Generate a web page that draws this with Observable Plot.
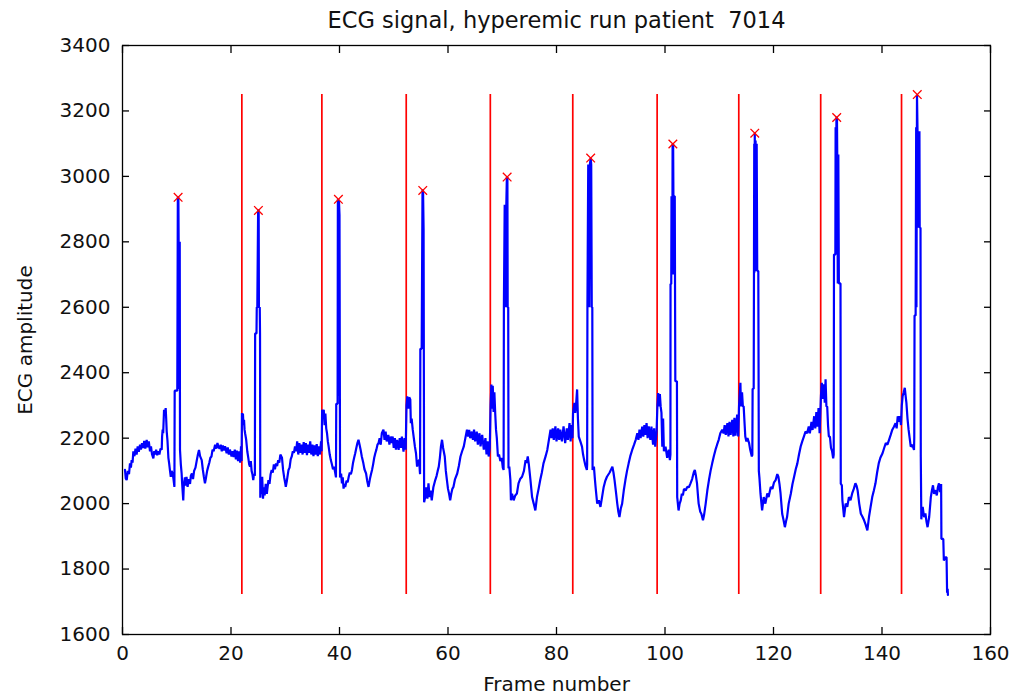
<!DOCTYPE html>
<html>
<head>
<meta charset="utf-8">
<script src="https://cdn.jsdelivr.net/npm/d3@7"></script>
<script src="https://cdn.jsdelivr.net/npm/@observablehq/plot@0.6"></script>
<style>
  html, body { margin: 0; padding: 0; background: #fff; }
</style>
</head>
<body>
<div id="chart"></div>
<script>
// ---- Data ----
const titleText = "ECG signal, hyperemic run patient  7014";
const xLabel = "Frame number";
const yLabel = "ECG amplitude";
const xTicks = [0, 20, 40, 60, 80, 100, 120, 140, 160];
const yTicks = [1600, 1800, 2000, 2200, 2400, 2600, 2800, 3000, 3200, 3400];

// beat boundaries (red vertical lines), frame numbers
const beatFrames = [22.0, 36.75, 52.3, 67.8, 83.0, 98.55, 113.6, 128.7, 143.6];
const beatLow = 1722;
const beatHigh = 3250;

// detected R peaks (red crosses)
const peakFrames = [10.25, 25.05, 39.8, 55.35, 70.9, 86.3, 101.45, 116.55, 131.65, 146.5];
const peakValues = [2936, 2896, 2930, 2957, 2998, 3056, 3099, 3132, 3180, 3250];

// ECG trace [frame, amplitude]
const ecgSignal = [
[0.46,2103],[0.6,2077],[0.77,2072],[0.98,2100],[1.2,2090],[1.38,2123],[1.55,2110],[1.69,2133],[1.85,2125],[2.0,2160],[2.2,2145],[2.4,2168],[2.6,2150],[2.8,2175],[3.0,2158],[3.23,2180],[3.4,2165],[3.6,2185],[3.84,2170],[4.0,2192],[4.2,2168],[4.46,2195],[4.65,2172],[4.85,2190],[5.07,2160],[5.25,2175],[5.45,2150],[5.69,2138],[5.85,2160],[6.0,2150],[6.2,2165],[6.4,2148],[6.6,2160],[6.8,2150],[7.0,2168],[7.23,2165],[7.3,2205],[7.4,2226],[7.5,2215],[7.66,2287],[7.8,2270],[7.96,2292],[8.05,2260],[8.15,2220],[8.3,2190],[8.46,2140],[8.6,2123],[8.76,2100],[8.9,2082],[9.05,2100],[9.25,2092],[9.4,2075],[9.57,2051],
[9.62,2345],[10.1,2345],[10.2,2936],[10.3,2936],[10.35,2800],[10.4,2350],[10.45,2800],[10.5,2350],[10.55,2800],[10.6,2164],
[10.75,2120],[10.9,2092],[11.0,2060],[11.2,2010],[11.3,2056],[11.5,2080],[11.65,2055],[11.8,2082],[12.0,2051],[12.2,2075],[12.45,2060],[12.6,2085],[12.8,2092],[13.0,2075],[13.2,2100],[13.45,2110],[13.7,2133],[13.9,2150],[14.1,2164],[14.3,2145],[14.6,2133],[14.8,2105],[15.0,2082],[15.2,2062],[15.4,2080],[15.6,2100],[15.8,2113],[16.0,2125],[16.2,2140],[16.4,2144],[16.6,2165],[16.8,2160],[17.07,2180],[17.3,2168],[17.5,2185],[17.7,2172],[17.9,2168],[18.1,2180],[18.3,2160],[18.5,2178],[18.7,2162],[18.9,2175],[19.2,2154],[19.4,2172],[19.6,2150],[19.8,2165],[20.1,2144],[20.3,2160],[20.5,2142],[20.7,2165],[20.9,2135],[21.07,2162],[21.3,2130],[21.5,2160],[21.7,2125],[21.85,2175],[21.95,2130],
[22.02,2277],[22.1,2260],[22.2,2275],[22.3,2240],[22.4,2256],[22.5,2226],[22.6,2215],[22.8,2195],[23.0,2160],[23.2,2138],[23.35,2120],[23.5,2113],[23.65,2130],[23.8,2100],[23.95,2090],[24.1,2072],[24.25,2090],[24.4,2085],
[24.45,2520],[24.7,2520],[24.75,2600],[24.85,2600],[25.0,2896],[25.1,2896],[25.15,2600],[25.3,2600],[25.35,2520],[25.4,2018],
[25.5,2050],[25.6,2030],[25.75,2082],[25.9,2015],[26.05,2050],[26.2,2025],[26.4,2060],[26.6,2030],[26.9,2072],[27.1,2060],[27.3,2090],[27.5,2103],[27.7,2095],[27.9,2120],[28.1,2105],[28.3,2123],[28.5,2115],[28.7,2133],[28.9,2125],[29.1,2150],[29.4,2140],[29.6,2103],[29.8,2080],[30.0,2062],[30.1,2051],[30.3,2070],[30.6,2103],[30.8,2110],[31.0,2135],[31.2,2144],[31.4,2160],[31.6,2155],[31.8,2175],
[32.0,2160],[32.2,2190],[32.4,2150],[32.6,2185],[32.8,2155],[33.0,2180],[33.2,2150],[33.4,2188],[33.6,2155],[33.8,2185],[34.0,2148],[34.2,2180],[34.4,2155],[34.6,2190],[34.8,2150],[35.0,2180],[35.2,2145],[35.4,2178],[35.6,2150],[35.8,2182],[36.0,2145],[36.2,2175],[36.4,2150],[36.6,2190],[36.7,2160],
[36.8,2287],[36.95,2260],[37.1,2287],[37.25,2240],[37.4,2275],[37.55,2230],[37.7,2215],[37.85,2190],[38.0,2174],[38.2,2150],[38.4,2133],[38.6,2120],[38.8,2105],[39.0,2113],[39.2,2095],[39.35,2080],
[39.4,2305],[39.65,2305],[39.7,2930],[39.75,2330],[39.8,2930],[39.85,2330],[39.9,2925],[40.0,2882],[40.1,2080],
[40.3,2092],[40.45,2062],[40.6,2080],[40.75,2046],[40.9,2060],[41.05,2051],[41.3,2070],[41.5,2065],[41.7,2082],[41.9,2095],[42.1,2090],[42.3,2103],[42.5,2125],[42.7,2140],[42.9,2154],[43.1,2170],[43.3,2185],[43.5,2195],[43.7,2180],[43.9,2164],[44.1,2145],[44.4,2123],[44.6,2105],[44.9,2092],[45.1,2070],[45.35,2051],[45.6,2075],[45.8,2090],[46.0,2103],[46.2,2120],[46.4,2140],[46.6,2154],[46.8,2165],[47.0,2180],[47.2,2185],[47.4,2200],
[47.6,2180],[47.8,2215],[48.1,2226],[48.3,2195],[48.5,2220],[48.7,2190],[49.0,2210],[49.2,2180],[49.4,2205],[49.6,2185],[49.8,2205],[50.0,2170],[50.2,2200],[50.4,2165],[50.6,2195],[50.9,2164],[51.1,2200],[51.3,2170],[51.5,2205],[51.8,2159],[52.0,2200],[52.2,2165],
[52.35,2300],[52.5,2328],[52.7,2290],[52.85,2325],[53.05,2318],[53.15,2246],[53.3,2260],[53.5,2226],[53.7,2200],[53.9,2174],[54.1,2154],[54.3,2113],[54.5,2130],[54.7,2133],[54.8,2100],[54.85,2090],
[54.9,2473],[55.15,2473],[55.3,2957],[55.4,2957],[55.5,2840],[55.6,2004],
[55.8,2020],[56.0,2050],[56.2,2015],[56.4,2062],[56.6,2020],[56.8,2040],[57.0,2010],[57.3,2050],[57.65,2072],[57.9,2085],[58.1,2100],[58.3,2113],[58.5,2140],[58.7,2175],[58.9,2195],[59.1,2170],[59.4,2144],[59.6,2100],[59.8,2072],[60.0,2045],[60.2,2030],[60.4,2010],[60.6,2030],[60.8,2045],[61.0,2051],[61.3,2075],[61.7,2092],[62.0,2115],[62.3,2144],[62.6,2160],[62.9,2174],[63.2,2200],[63.5,2226],[63.7,2205],[63.9,2225],[64.1,2200],[64.4,2220],[64.6,2195],[64.8,2226],[65.0,2190],[65.3,2220],[65.5,2180],[65.8,2215],[66.0,2175],[66.3,2210],[66.6,2165],[66.9,2200],[67.1,2150],[67.3,2190],[67.5,2144],[67.7,2170],
[67.85,2300],[68.0,2364],[68.1,2290],[68.25,2360],[68.4,2280],[68.55,2340],[68.7,2277],[68.85,2226],[69.0,2200],[69.2,2144],[69.4,2150],[69.65,2130],[69.9,2140],[70.1,2110],[70.25,2103],
[70.3,2600],[70.45,2913],[70.5,2600],[70.6,2913],[70.65,2600],[70.75,2913],[70.85,2998],[70.95,2998],[71.0,2600],[71.1,2600],[71.15,2108],
[71.3,2113],[71.5,2072],[71.6,2010],[71.8,2030],[72.1,2010],[72.4,2025],[72.7,2031],[73.0,2062],[73.3,2075],[73.65,2082],[74.0,2100],[74.3,2133],[74.5,2125],[74.7,2144],[74.9,2120],[75.2,2072],[75.5,2020],[75.8,2000],[76.1,1979],[76.4,2020],[76.7,2045],[77.0,2072],[77.3,2095],[77.6,2123],[78.0,2145],[78.3,2164],[78.6,2195],[78.9,2226],[79.1,2200],[79.3,2230],[79.5,2195],[79.8,2236],[80.0,2190],[80.3,2230],[80.5,2195],[80.7,2226],[81.0,2190],[81.3,2236],[81.6,2185],[81.9,2230],[82.1,2195],[82.4,2246],[82.6,2190],[82.8,2240],[82.95,2200],
[83.05,2277],[83.3,2308],[83.45,2277],[83.6,2300],[83.8,2349],[83.95,2260],[84.1,2205],[84.4,2190],[84.7,2174],[84.9,2150],[85.1,2133],[85.35,2115],[85.6,2103],[85.65,2120],
[85.7,2600],[85.85,3036],[85.9,2600],[86.0,3036],[86.05,2600],[86.15,3036],[86.3,3056],[86.4,3036],[86.5,2600],[86.6,2600],[86.65,2103],
[86.9,2113],[87.05,2080],[87.2,2051],[87.5,2000],[87.8,2010],[88.1,1990],[88.4,2020],[88.7,2051],[89.0,2070],[89.3,2082],[89.8,2095],[90.3,2113],[90.5,2095],[90.7,2072],[91.0,2030],[91.2,2000],[91.4,1975],[91.6,1959],[91.85,1985],[92.1,2000],[92.4,2040],[92.7,2072],[93.0,2100],[93.3,2123],[93.6,2145],[93.95,2164],[94.3,2180],[94.6,2195],[94.9,2215],[95.1,2195],[95.3,2226],[95.5,2200],[95.8,2235],[96.0,2205],[96.2,2240],[96.4,2210],[96.6,2246],[96.8,2200],[97.0,2236],[97.3,2195],[97.5,2235],[97.8,2180],[98.0,2230],[98.2,2174],[98.45,2220],
[98.6,2300],[98.75,2338],[98.9,2297],[99.05,2335],[99.2,2297],[99.35,2277],[99.5,2174],[99.65,2260],[99.8,2160],[100.1,2174],[100.4,2140],[100.7,2165],[100.9,2133],[101.0,2150],
[101.02,2671],[101.15,2671],[101.2,2939],[101.25,2700],[101.3,2939],[101.35,2700],[101.4,3099],[101.5,3099],[101.55,2939],[101.6,2700],[101.7,2939],[101.8,2939],[101.9,2374],[102.2,2374],[102.25,2020],
[102.5,1979],[102.7,2000],[102.9,2010],[103.1,2030],[103.3,2025],[103.5,2045],[103.8,2040],[104.1,2051],[104.4,2050],[104.7,2062],[105.0,2075],[105.3,2095],[105.5,2103],[105.7,2085],[105.9,2062],[106.05,2030],[106.2,2000],[106.5,1975],[106.7,1969],[107.0,1949],[107.2,1965],[107.5,2000],[107.8,2040],[108.1,2072],[108.4,2100],[108.7,2123],[109.0,2145],[109.3,2164],[109.6,2180],[109.9,2195],[110.2,2215],[110.55,2226],[110.8,2215],[111.0,2240],[111.2,2210],[111.5,2246],[111.7,2205],[111.9,2250],[112.1,2210],[112.4,2256],[112.6,2205],[112.8,2262],[113.0,2208],[113.3,2272],[113.5,2205],
[113.65,2300],[113.9,2369],[114.0,2297],[114.2,2340],[114.35,2297],[114.5,2297],[114.65,2250],[114.8,2205],[115.0,2190],[115.2,2200],[115.5,2185],[115.7,2165],[116.0,2144],[116.1,2149],
[116.15,2351],[116.35,2351],[116.4,2706],[116.45,3100],[116.5,2706],[116.55,3132],[116.6,2720],[116.7,3110],[116.8,2711],[116.9,3100],[117.0,2711],[117.2,2711],[117.3,2099],
[117.4,2080],[117.6,2031],[117.9,1979],[118.2,2020],[118.5,2000],[118.85,2031],[119.1,2020],[119.5,2051],[119.8,2045],[120.1,2065],[120.4,2072],[120.7,2090],[120.9,2082],[121.1,2060],[121.3,2031],[121.6,1969],[121.85,1950],[122.1,1928],[122.3,1945],[122.5,1959],[122.8,2000],[123.2,2031],[123.5,2060],[123.8,2082],[124.1,2105],[124.4,2123],[124.7,2150],[125.0,2174],[125.3,2190],[125.6,2205],[125.9,2220],[126.2,2215],[126.5,2236],[126.7,2215],[127.0,2250],[127.2,2225],[127.5,2267],[127.7,2230],[127.9,2280],[128.1,2235],[128.3,2292],[128.5,2215],[128.65,2285],
[128.75,2330],[128.9,2369],[129.1,2320],[129.3,2365],[129.45,2308],[129.6,2380],[129.75,2297],[129.9,2297],[130.05,2240],[130.2,2205],[130.4,2205],[130.6,2170],[130.8,2160],[131.0,2138],[131.1,2150],
[131.15,2761],[131.4,2761],[131.45,3150],[131.5,2761],[131.6,3180],[131.7,3180],[131.75,3067],[131.85,2673],[131.95,3067],[132.05,2673],[132.35,2673],[132.4,2061],
[132.6,2056],[132.7,2010],[133.0,1959],[133.3,2000],[133.6,1990],[133.9,2020],[134.2,2010],[134.5,2031],[134.8,2045],[135.1,2062],[135.3,2055],[135.5,2041],[135.8,2000],[136.1,1969],[136.4,1960],[136.7,1949],[137.0,1935],[137.3,1918],[137.6,1959],[137.9,1990],[138.2,2020],[138.5,2040],[138.8,2062],[139.1,2095],[139.4,2123],[139.7,2140],[140.1,2154],[140.4,2170],[140.7,2185],[141.0,2180],[141.3,2195],[141.6,2210],[141.9,2226],[142.2,2235],[142.5,2246],[142.7,2230],[142.9,2267],[143.1,2250],[143.3,2267],[143.5,2240],
[143.65,2300],[143.8,2328],[144.0,2340],[144.2,2354],[144.35,2330],[144.5,2308],[144.7,2260],[144.9,2226],[145.1,2200],[145.3,2174],[145.6,2180],[145.9,2164],[145.95,2203],
[146.0,2575],[146.2,2575],[146.3,3150],[146.35,2600],[146.45,3250],[146.55,3138],[146.65,2843],[146.7,3138],[146.8,2843],[146.9,3138],[146.95,2843],[147.1,2843],[147.15,2143],[147.25,1952],
[147.35,1979],[147.5,1990],[147.75,1959],[148.0,1970],[148.2,1945],[148.4,1928],[148.7,1959],[149.0,2020],[149.2,2040],[149.4,2056],[149.6,2030],[149.9,2041],[150.1,2025],[150.3,2050],[150.5,2062],[150.7,2035],[150.9,2060],[150.95,1892],[151.3,1892],[151.4,1826],[151.7,1836],[151.9,1836],[152.0,1728],[152.1,1740],[152.15,1721]
];

// ---- Build the chart ----
const peaks = peakFrames.map((f, i) => ({frame: f, value: peakValues[i]}));
const signal = ecgSignal.map(([frame, value]) => ({frame, value}));
const plain = d => String(d);
const noLabel = () => "";
const TICK = 7;

const chart = Plot.plot({
  width: 1016,
  height: 698,
  marginTop: 45,
  marginBottom: 64,
  marginLeft: 122,
  marginRight: 26,
  style: {fontFamily: "'DejaVu Sans', sans-serif", fontSize: "20px", background: "#fff", color: "#000"},
  x: {domain: [0, 160], ticks: xTicks},
  y: {domain: [1600, 3400], ticks: yTicks},
  marks: [
    Plot.ruleX(beatFrames, {x: d => d, y1: beatLow, y2: beatHigh, stroke: "#ff0000", strokeWidth: 1.7}),
    Plot.line(signal, {x: "frame", y: "value", stroke: "#0000ff", strokeWidth: 2.2, strokeLinejoin: "miter"}),
    Plot.dot(peaks, {x: "frame", y: "value", symbol: "times", r: 4, stroke: "#ff0000", strokeWidth: 1.3}),
    Plot.frame({stroke: "#000", strokeWidth: 1.3}),
    // inward tick marks on all four sides (shifted inside the frame)
    Plot.axisX(xTicks, {anchor: "bottom", tickSize: TICK, dy: -TICK, tickFormat: noLabel, label: null, strokeWidth: 1.3}),
    Plot.axisX(xTicks, {anchor: "top", tickSize: TICK, dy: TICK, tickFormat: noLabel, label: null, strokeWidth: 1.3}),
    Plot.axisY(yTicks, {anchor: "left", tickSize: TICK, dx: TICK, tickFormat: noLabel, label: null, strokeWidth: 1.3}),
    Plot.axisY(yTicks, {anchor: "right", tickSize: TICK, dx: -TICK, tickFormat: noLabel, label: null, strokeWidth: 1.3}),
    // tick labels
    Plot.axisX(xTicks, {anchor: "bottom", tickSize: 0, tickPadding: 11, tickFormat: plain, label: null, fill: "#111"}),
    Plot.axisY(yTicks, {anchor: "left", tickSize: 0, tickPadding: 12, tickFormat: plain, label: null, fill: "#111"}),
    // title and axis labels
    Plot.text([titleText], {text: d => d, frameAnchor: "top", dy: -25, lineAnchor: "middle", fontSize: 22.5, fill: "#111"}),
    Plot.text([xLabel], {text: d => d, frameAnchor: "bottom", dy: 50, lineAnchor: "middle", fill: "#111"}),
    Plot.text([yLabel], {text: d => d, frameAnchor: "left", dx: -97, rotate: -90, textAnchor: "middle", lineAnchor: "middle", fill: "#111"})
  ]
});
document.getElementById("chart").appendChild(chart);
</script>
</body>
</html>
